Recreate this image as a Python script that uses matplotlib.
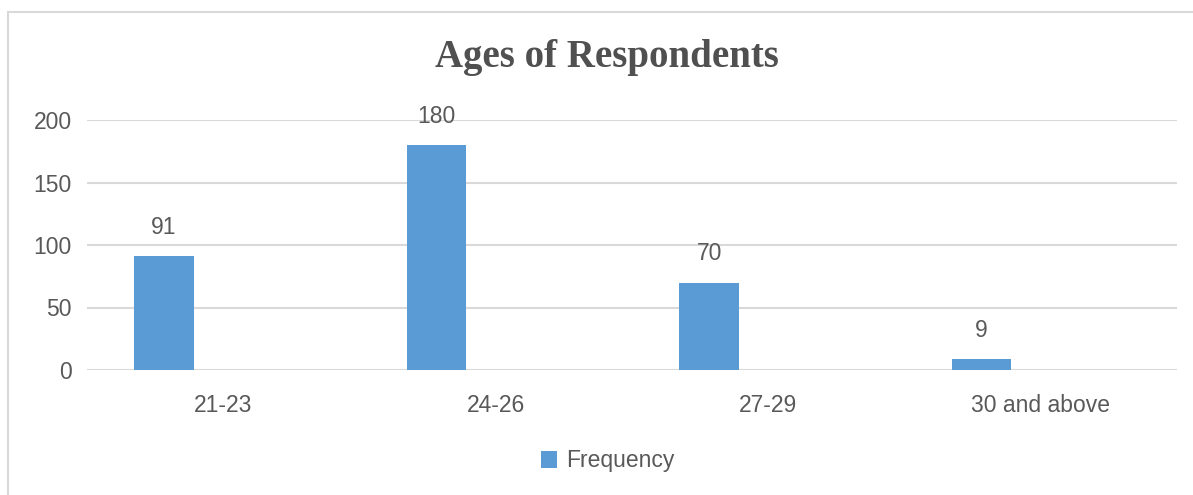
import matplotlib.pyplot as plt
from matplotlib.patches import Rectangle

categories = ['21-23', '24-26', '27-29', '30 and above']
frequency = [91, 180, 70, 9]
y_ticks = [0, 50, 100, 150, 200]

plt.rcParams['font.family'] = ['Liberation Sans', 'DejaVu Sans']
txt = '#595959'

W, H = 1193, 495
fig = plt.figure(figsize=(W / 100, H / 100), dpi=100)
ax = fig.add_axes([87 / W, (H - 370) / H, 1090 / W, 250 / H])

# bar sits left of the category centre, like the Excel original
x = list(range(len(categories)))
bx = [i - 0.217 for i in x]
bars = ax.bar(bx, frequency, width=0.218, color='#5B9BD5', label='Frequency', zorder=3)

for xi, v in zip(bx, frequency):
    ax.annotate(str(v), (xi, v), xytext=(0, 16), textcoords='offset points',
                ha='center', va='baseline', fontsize=16.5, color=txt, annotation_clip=False)

ax.set_xlim(-0.5, 3.5)
ax.set_ylim(0, 200)
ax.set_yticks(y_ticks)
ax.set_xticks(x)
ax.set_xticklabels(categories)
ax.tick_params(axis='both', length=0, labelsize=16.5, labelcolor=txt)
ax.tick_params(axis='y', pad=11)
ax.tick_params(axis='x', pad=17)
ax.grid(axis='y', color='#D9D9D9', linewidth=1.5, zorder=0)
for s in ax.spines.values():
    s.set_visible(False)

fig.text(607 / W, 1 - 58 / H, 'Ages of Respondents', ha='center', va='center',
         fontsize=28, fontweight='bold', family='Liberation Serif', color='#505050')

fig.legend(handles=[bars], loc='center', bbox_to_anchor=(608 / W, 1 - 461 / H),
           frameon=False, fontsize=16.5, labelcolor=txt, handlelength=0.7,
           handleheight=0.7, handletextpad=0.4)

fig.patches.append(Rectangle((8 / W, -0.1), 1.2, 1 - 12 / H + 0.1, transform=fig.transFigure,
                             fill=False, edgecolor='#D9D9D9', linewidth=1.5))

fig.savefig('out.png', dpi=100)
